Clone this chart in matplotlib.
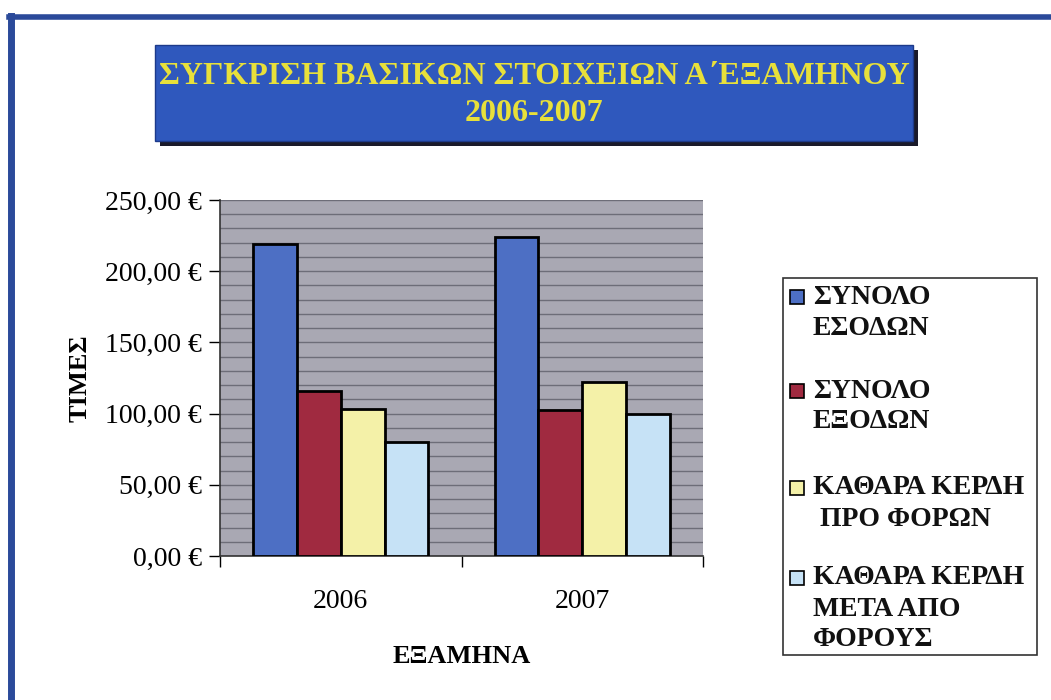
import matplotlib
matplotlib.use("Agg")
import matplotlib.pyplot as plt
from matplotlib.patches import Rectangle
from matplotlib.lines import Line2D
from matplotlib.ticker import MultipleLocator, FixedLocator, FuncFormatter
import numpy as np

# ---- data ----
years = ["2006", "2007"]
series_names = ["ΣΥΝΟΛΟ\nΕΣΟΔΩΝ", "ΣΥΝΟΛΟ\nΕΞΟΔΩΝ", "ΚΑΘΑΡΑ ΚΕΡΔΗ\n ΠΡΟ ΦΟΡΩΝ", "ΚΑΘΑΡΑ ΚΕΡΔΗ\nΜΕΤΑ ΑΠΟ\nΦΟΡΟΥΣ"]
total_income = [219, 224]
total_expenses = [116, 102.5]
profit_before_tax = [103, 122]
profit_after_tax = [80, 100]
series_values = [total_income, total_expenses, profit_before_tax, profit_after_tax]
series_colors = ["#4d6fc4", "#a02a40", "#f4f1a8", "#c6e2f6"]
title_text = "ΣΥΓΚΡΙΣΗ ΒΑΣΙΚΩΝ ΣΤΟΙΧΕΙΩΝ Α΄ΕΞΑΜΗΝΟΥ\n2006-2007"
y_label = "ΤΙΜΕΣ"
x_label = "ΕΞΑΜΗΝΑ"

plt.rcParams['font.family'] = ['Liberation Serif', 'DejaVu Serif']

W, H = 1051, 700
fig = plt.figure(figsize=(W / 100, H / 100), dpi=100)
fig.patch.set_facecolor("white")

def fx(px):
    return px / W

def fy(py):
    return 1 - py / H

# page border (left and top)
fig.add_artist(Line2D([fx(11), fx(11)], [fy(16), fy(700)], color="#2b4a9a", lw=5, transform=fig.transFigure))
fig.add_artist(Line2D([fx(9), fx(1051)], [fy(17), fy(17)], color="#2b4a9a", lw=4, transform=fig.transFigure))

# title box with shadow
bx0, by0, bx1, by1 = 155, 45, 913, 141
fig.add_artist(Rectangle((fx(bx0 + 5), fy(by1 + 5)), fx(bx1 - bx0), (by1 - by0) / H,
                         transform=fig.transFigure, facecolor="#1a1a2a", edgecolor="none", zorder=1))
fig.add_artist(Rectangle((fx(bx0), fy(by1)), fx(bx1 - bx0), (by1 - by0) / H,
                         transform=fig.transFigure, facecolor="#2f58bd", edgecolor="#1d3a8a", lw=1, zorder=2))
fig.text(fx((bx0 + bx1) / 2), fy((by0 + by1) / 2 + 2), title_text, ha="center", va="center",
         color="#e8e03a", fontsize=23, fontweight="bold", linespacing=1.4, zorder=3)

# axes
ax_l, ax_r, ax_t, ax_b = 220, 703, 200, 556
ax = fig.add_axes([fx(ax_l), fy(ax_b), fx(ax_r - ax_l), (ax_b - ax_t) / H])
ax.set_facecolor("#a9a8b3")

n = len(series_values)
width = 0.1815
x = np.arange(len(years))
for i, (vals, col) in enumerate(zip(series_values, series_colors)):
    ax.bar(x + (i - (n - 1) / 2) * width, vals, width, color=col, edgecolor="black", linewidth=2, zorder=3)

ax.set_xlim(-0.5, len(years) - 0.5)
ax.set_ylim(0, 250)
ax.yaxis.set_major_locator(MultipleLocator(50))
ax.yaxis.set_minor_locator(MultipleLocator(10))
ax.yaxis.set_major_formatter(FuncFormatter(lambda v, p: f"{v:,.2f}".replace(".", ",") + " €"))
ax.grid(True, which="both", axis="y", color="#6d6d78", linewidth=1.0, zorder=0)
ax.set_axisbelow(True)

ax.xaxis.set_major_locator(FixedLocator([-0.5, 0.5, 1.5]))
ax.xaxis.set_minor_locator(FixedLocator(x))
ax.set_xticklabels(["", "", ""])
ax.set_xticklabels(years, minor=True)
ax.tick_params(axis="x", which="major", length=8, width=1, direction="out")
ax.tick_params(axis="x", which="minor", length=0, pad=24, labelsize=20)
ax.tick_params(axis="y", which="major", length=8, width=1, labelsize=20, pad=5)
ax.tick_params(axis="y", which="minor", length=0)

for s in ["top", "right"]:
    ax.spines[s].set_visible(False)
for s in ["left", "bottom"]:
    ax.spines[s].set_color("#333333")
    ax.spines[s].set_linewidth(1.2)

ax.set_xlabel(x_label, fontsize=19, fontweight="bold", labelpad=22)
ax.set_ylabel(y_label, fontsize=19, fontweight="bold", labelpad=10)

# legend (manual, multi-line)
lx0, ly0, lx1, ly1 = 783, 278, 1037, 655
fig.add_artist(Rectangle((fx(lx0), fy(ly1)), fx(lx1 - lx0), (ly1 - ly0) / H, transform=fig.transFigure,
                         facecolor="white", edgecolor="#333333", lw=1.2))
entry_tops = [297, 391, 488, 578]
line_h = 31
for name, col, ty in zip(series_names, series_colors, entry_tops):
    fig.add_artist(Rectangle((fx(790), fy(ty + 7)), fx(14), 14 / H, transform=fig.transFigure,
                             facecolor=col, edgecolor="black", lw=1.2))
    for k, line in enumerate(name.split("\n")):
        fig.text(fx(813), fy(ty + k * line_h), line, ha="left", va="center",
                 fontsize=20, fontweight="bold", color="#111111")

fig.savefig("out.png", dpi=100)
